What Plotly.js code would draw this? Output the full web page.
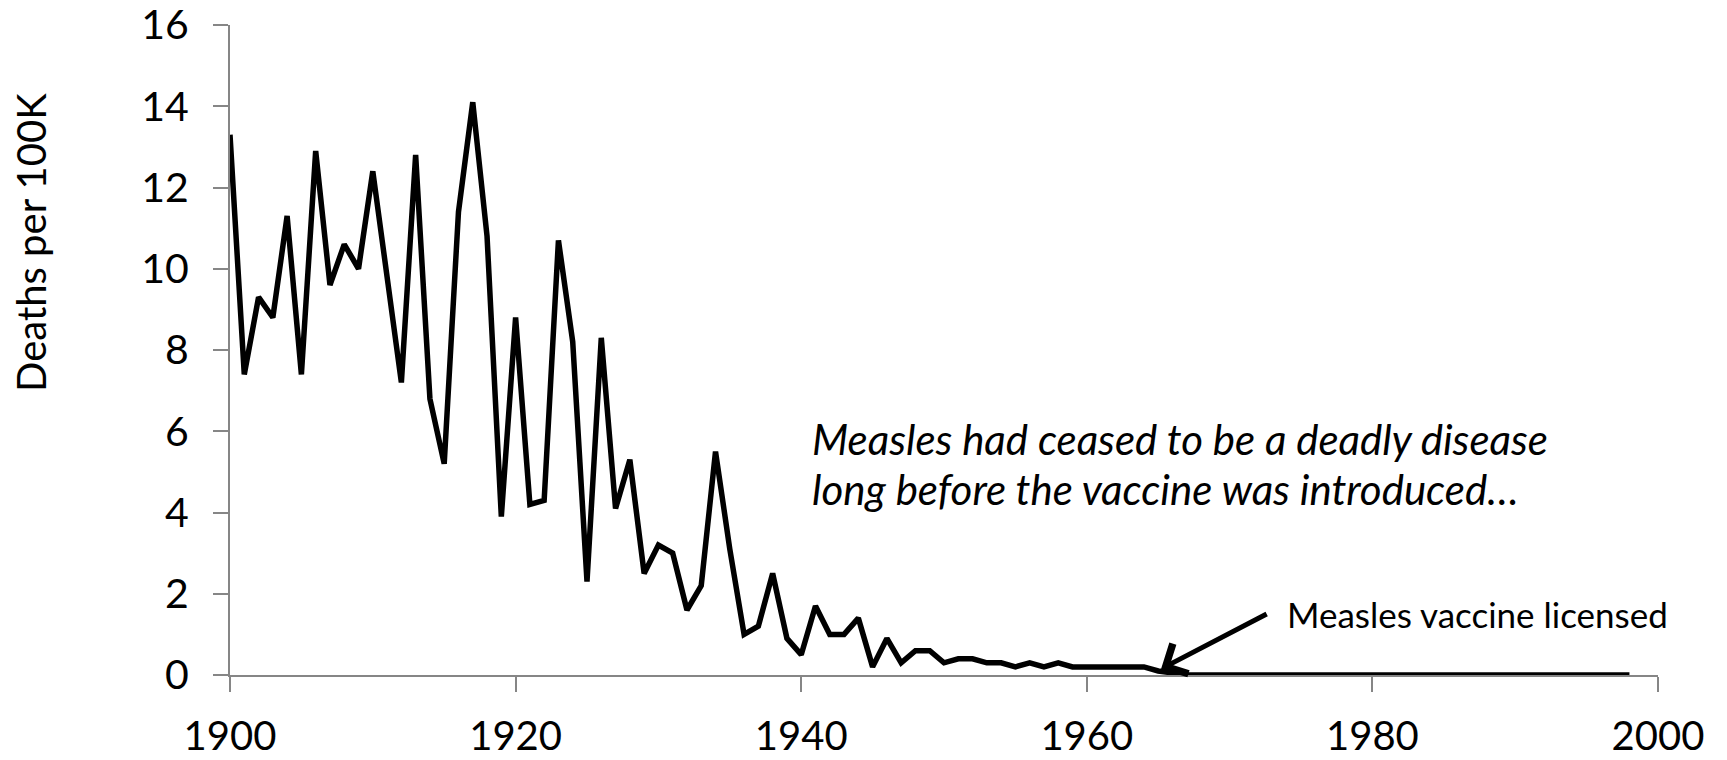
<!DOCTYPE html>
<html>
<head>
<meta charset="utf-8">
<script src="https://cdn.plot.ly/plotly-3.0.1.min.js"></script>
<style>
  html, body { margin: 0; padding: 0; background: #ffffff; }
  #chart { width: 1727px; height: 760px; }
</style>
</head>
<body>
<div id="chart"></div>
<script>
// Years 1900..1998
const years = [
  1900,1901,1902,1903,1904,1905,1906,1907,1908,1909,
  1910,1911,1912,1913,1914,1915,1916,1917,1918,1919,
  1920,1921,1922,1923,1924,1925,1926,1927,1928,1929,
  1930,1931,1932,1933,1934,1935,1936,1937,1938,1939,
  1940,1941,1942,1943,1944,1945,1946,1947,1948,1949,
  1950,1951,1952,1953,1954,1955,1956,1957,1958,1959,
  1960,1961,1962,1963,1964,1965,1966,1967,1968,1969,
  1970,1971,1972,1973,1974,1975,1976,1977,1978,1979,
  1980,1981,1982,1983,1984,1985,1986,1987,1988,1989,
  1990,1991,1992,1993,1994,1995,1996,1997,1998
];
// Measles deaths per 100K population
const deathsPer100K = [
  13.3, 7.4, 9.3, 8.8, 11.3, 7.4, 12.9, 9.6, 10.6, 10.0,
  12.4, 9.8, 7.2, 12.8, 6.8, 5.2, 11.4, 14.1, 10.8, 3.9,
  8.8, 4.2, 4.3, 10.7, 8.2, 2.3, 8.3, 4.1, 5.3, 2.5,
  3.2, 3.0, 1.6, 2.2, 5.5, 3.1, 1.0, 1.2, 2.5, 0.9,
  0.5, 1.7, 1.0, 1.0, 1.4, 0.2, 0.9, 0.3, 0.6, 0.6,
  0.3, 0.4, 0.4, 0.3, 0.3, 0.2, 0.3, 0.2, 0.3, 0.2,
  0.2, 0.2, 0.2, 0.2, 0.2, 0.1, 0.04, 0, 0, 0,
  0, 0, 0, 0, 0, 0, 0, 0, 0, 0,
  0, 0, 0, 0, 0, 0, 0, 0, 0, 0,
  0, 0, 0, 0, 0, 0, 0, 0, 0
];
const xTickVals = [1900, 1920, 1940, 1960, 1980, 2000];
const yTickVals = [0, 2, 4, 6, 8, 10, 12, 14, 16];
const yTitle = "Deaths per 100K";
const noteLines = [
  "Measles had ceased to be a deadly disease",
  "long before the vaccine was introduced…"
];
const vaccineLabel = "Measles vaccine licensed";

const axisGray = "#868686";
const textFont = "Lato, 'Open Sans', sans-serif";

const trace = {
  x: years,
  y: deathsPer100K,
  type: "scatter",
  mode: "lines",
  line: { color: "#000000", width: 5.5, shape: "linear" },
  cliponaxis: false,
  hoverinfo: "x+y"
};

const layout = {
  width: 1727,
  height: 760,
  paper_bgcolor: "#ffffff",
  plot_bgcolor: "#ffffff",
  showlegend: false,
  margin: { l: 230, r: 69, t: 25, b: 85, pad: 0 },
  xaxis: {
    range: [1900, 2000],
    tickvals: xTickVals,
    ticktext: xTickVals.map(String),
    showgrid: false,
    zeroline: false,
    showline: true,
    linecolor: axisGray,
    linewidth: 2,
    ticks: "outside",
    ticklen: 15,
    tickwidth: 2,
    tickcolor: axisGray,
    ticklabelstandoff: 10,
    ticklabeloverflow: "allow",
    tickfont: { family: textFont, size: 40, color: "#000000" },
    automargin: false
  },
  yaxis: {
    range: [0, 16],
    tickvals: yTickVals,
    ticktext: yTickVals.map(String),
    showgrid: false,
    zeroline: false,
    showline: true,
    linecolor: axisGray,
    linewidth: 2,
    ticks: "outside",
    ticklen: 15,
    tickwidth: 2,
    tickcolor: axisGray,
    ticklabelstandoff: 16,
    ticklabeloverflow: "allow",
    tickfont: { family: textFont, size: 41, color: "#000000" },
    automargin: false
  },
  annotations: [
    {
      x: 31, y: 243,
      xref: "paper", yref: "paper",
      text: yTitle,
      textangle: -90,
      showarrow: false,
      xanchor: "center", yanchor: "middle",
      font: { family: textFont, size: 40, color: "#000000" }
    },
    {
      x: 1940.6, y: 5.8,
      xref: "x", yref: "y",
      text: "<i>" + noteLines[0] + "</i>",
      showarrow: false,
      xanchor: "left", yanchor: "middle",
      align: "left",
      font: { family: textFont, size: 42, color: "#000000" }
    },
    {
      x: 1940.6, y: 4.58,
      xref: "x", yref: "y",
      text: "<i>" + noteLines[1] + "</i>",
      showarrow: false,
      xanchor: "left", yanchor: "middle",
      align: "left",
      font: { family: textFont, size: 42, color: "#000000" }
    },
    {
      x: 1965.2, y: 0.15,
      xref: "x", yref: "y",
      ax: 1972.7, ay: 1.52,
      axref: "x", ayref: "y",
      text: "",
      showarrow: true,
      arrowhead: 4,
      arrowsize: 1.3,
      arrowwidth: 5,
      arrowcolor: "#000000"
    },
    {
      x: 1973.9, y: 1.5,
      xref: "x", yref: "y",
      text: vaccineLabel,
      showarrow: false,
      xanchor: "left", yanchor: "middle",
      font: { family: textFont, size: 35, color: "#000000" }
    }
  ]
};

// Convert the y-title annotation position from pixels to paper fractions
(function () {
  const plotW = layout.width - layout.margin.l - layout.margin.r;
  const plotH = layout.height - layout.margin.t - layout.margin.b;
  const a = layout.annotations[0];
  a.x = (a.x - layout.margin.l) / plotW;
  a.y = 1 - (a.y - layout.margin.t) / plotH;
})();

Plotly.newPlot("chart", [trace], layout, { displayModeBar: false, staticPlot: true });
</script>
</body>
</html>
